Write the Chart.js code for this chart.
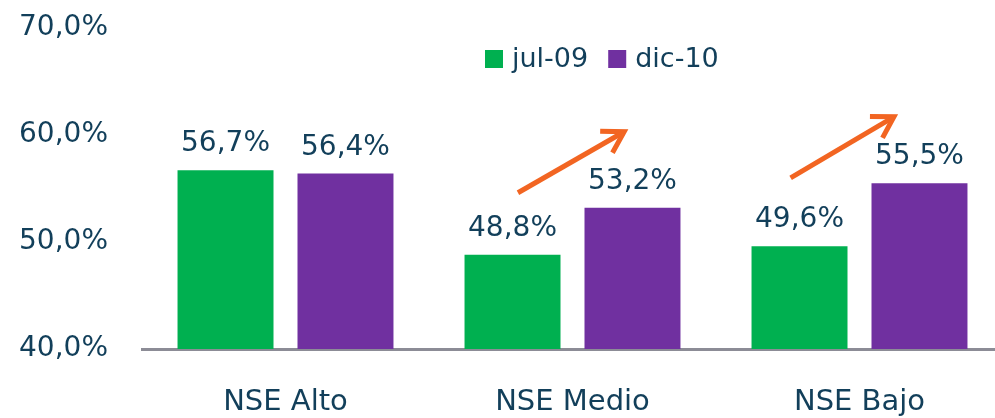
<!DOCTYPE html>
<html>
<head>
<meta charset="utf-8">
<script src="https://cdn.jsdelivr.net/npm/chart.js@4.4.0/dist/chart.umd.min.js"></script>
<style>
  html, body { margin: 0; padding: 0; background: #fff; overflow: hidden; }
  #wrap { width: 1003px; height: 418px; position: relative; }
</style>
</head>
<body>
<div id="wrap"><canvas id="grafico"></canvas></div>
<script>
const categorias = ["NSE Alto", "NSE Medio", "NSE Bajo"];
const series = ["jul-09", "dic-10"];
const valoresJul09 = [56.7, 48.8, 49.6];
const valoresDic10 = [56.4, 53.2, 55.5];
const colores = ["#00b050", "#7030a0"];
const ticksY = [40, 50, 60, 70];
// flechas: [indice categoria, valor %]
const flechaDesde = [[0.81, 54.6], [1.76, 56.0]];
const flechaHasta = [[1.18, 60.3], [2.12, 61.7]];

const textoColor = "#123f5a";
const fuente = "'DejaVu Sans', sans-serif";

function fmt(v) {
  return v.toFixed(1).replace(".", ",") + "%";
}

// etiquetas de valores sobre las barras
const etiquetas = {
  id: "etiquetas",
  afterDatasetsDraw(chart) {
    const ctx = chart.ctx;
    ctx.save();
    ctx.fillStyle = textoColor;
    ctx.font = "28px " + fuente;
    ctx.textAlign = "center";
    ctx.textBaseline = "alphabetic";
    chart.data.datasets.forEach((ds, i) => {
      chart.getDatasetMeta(i).data.forEach((bar, j) => {
        ctx.fillText(fmt(ds.data[j]), bar.x, bar.y - 19);
      });
    });
    ctx.restore();
  }
};

// leyenda dibujada dentro del area
const leyenda = {
  id: "leyenda",
  afterDraw(chart) {
    const ctx = chart.ctx;
    ctx.save();
    ctx.font = "27px " + fuente;
    ctx.textBaseline = "middle";
    let x = 485, y = 59;
    chart.data.datasets.forEach(ds => {
      ctx.fillStyle = ds.backgroundColor;
      ctx.fillRect(x, y - 9, 18, 18);
      ctx.fillStyle = textoColor;
      ctx.fillText(ds.label, x + 27, y + 1);
      x += 27 + ctx.measureText(ds.label).width + 20;
    });
    ctx.restore();
  }
};

// flechas naranjas
const flechas = {
  id: "flechas",
  afterDraw(chart) {
    const ctx = chart.ctx;
    const xs = chart.scales.x, ys = chart.scales.y;
    ctx.save();
    ctx.strokeStyle = "#f26522";
    ctx.lineWidth = 5;
    ctx.lineCap = "butt";
    flechaDesde.forEach((d, i) => {
      const h = flechaHasta[i];
      const x1 = xs.getPixelForValue(d[0]), y1 = ys.getPixelForValue(d[1]);
      const x2 = xs.getPixelForValue(h[0]), y2 = ys.getPixelForValue(h[1]);
      const ang = Math.atan2(y2 - y1, x2 - x1);
      ctx.beginPath();
      ctx.moveTo(x1, y1);
      ctx.lineTo(x2 - 3 * Math.cos(ang), y2 - 3 * Math.sin(ang));
      ctx.stroke();
      ctx.beginPath();
      ctx.moveTo(x2 + 24 * Math.cos(ang + 2.6), y2 + 24 * Math.sin(ang + 2.6));
      ctx.lineTo(x2, y2);
      ctx.lineTo(x2 + 24 * Math.cos(ang - 2.6), y2 + 24 * Math.sin(ang - 2.6));
      ctx.stroke();
    });
    ctx.restore();
  }
};

new Chart(document.getElementById("grafico"), {
  type: "bar",
  data: {
    labels: categorias,
    datasets: [
      { label: series[0], data: valoresJul09, backgroundColor: colores[0] },
      { label: series[1], data: valoresDic10, backgroundColor: colores[1] }
    ]
  },
  options: {
    responsive: true,
    maintainAspectRatio: false,
    animation: false,
    layout: { padding: { top: 28, left: 0, right: 0, bottom: 0 } },
    datasets: { bar: { categoryPercentage: 0.836, barPercentage: 0.8 } },
    plugins: { legend: { display: false }, tooltip: { enabled: false } },
    scales: {
      x: {
        grid: { display: false, drawTicks: false },
        border: { display: true, color: "#8c8c96", width: 3 },
        ticks: { color: textoColor, font: { family: fuente, size: 29 }, padding: 36 },
        afterFit(s) { s.height = 69; s.paddingLeft = 0; s.paddingRight = 0; }
      },
      y: {
        min: 40,
        max: 70,
        afterBuildTicks(s) { s.ticks = ticksY.map(v => ({ value: v })); },
        grid: { display: false, drawTicks: false },
        border: { display: false },
        ticks: {
          color: textoColor,
          font: { family: fuente, size: 28 },
          padding: 34,
          callback: v => fmt(v)
        },
        afterFit(s) { s.width = 142; s.paddingTop = 0; s.paddingBottom = 0; }
      }
    }
  },
  plugins: [etiquetas, leyenda, flechas]
});
</script>
</body>
</html>
